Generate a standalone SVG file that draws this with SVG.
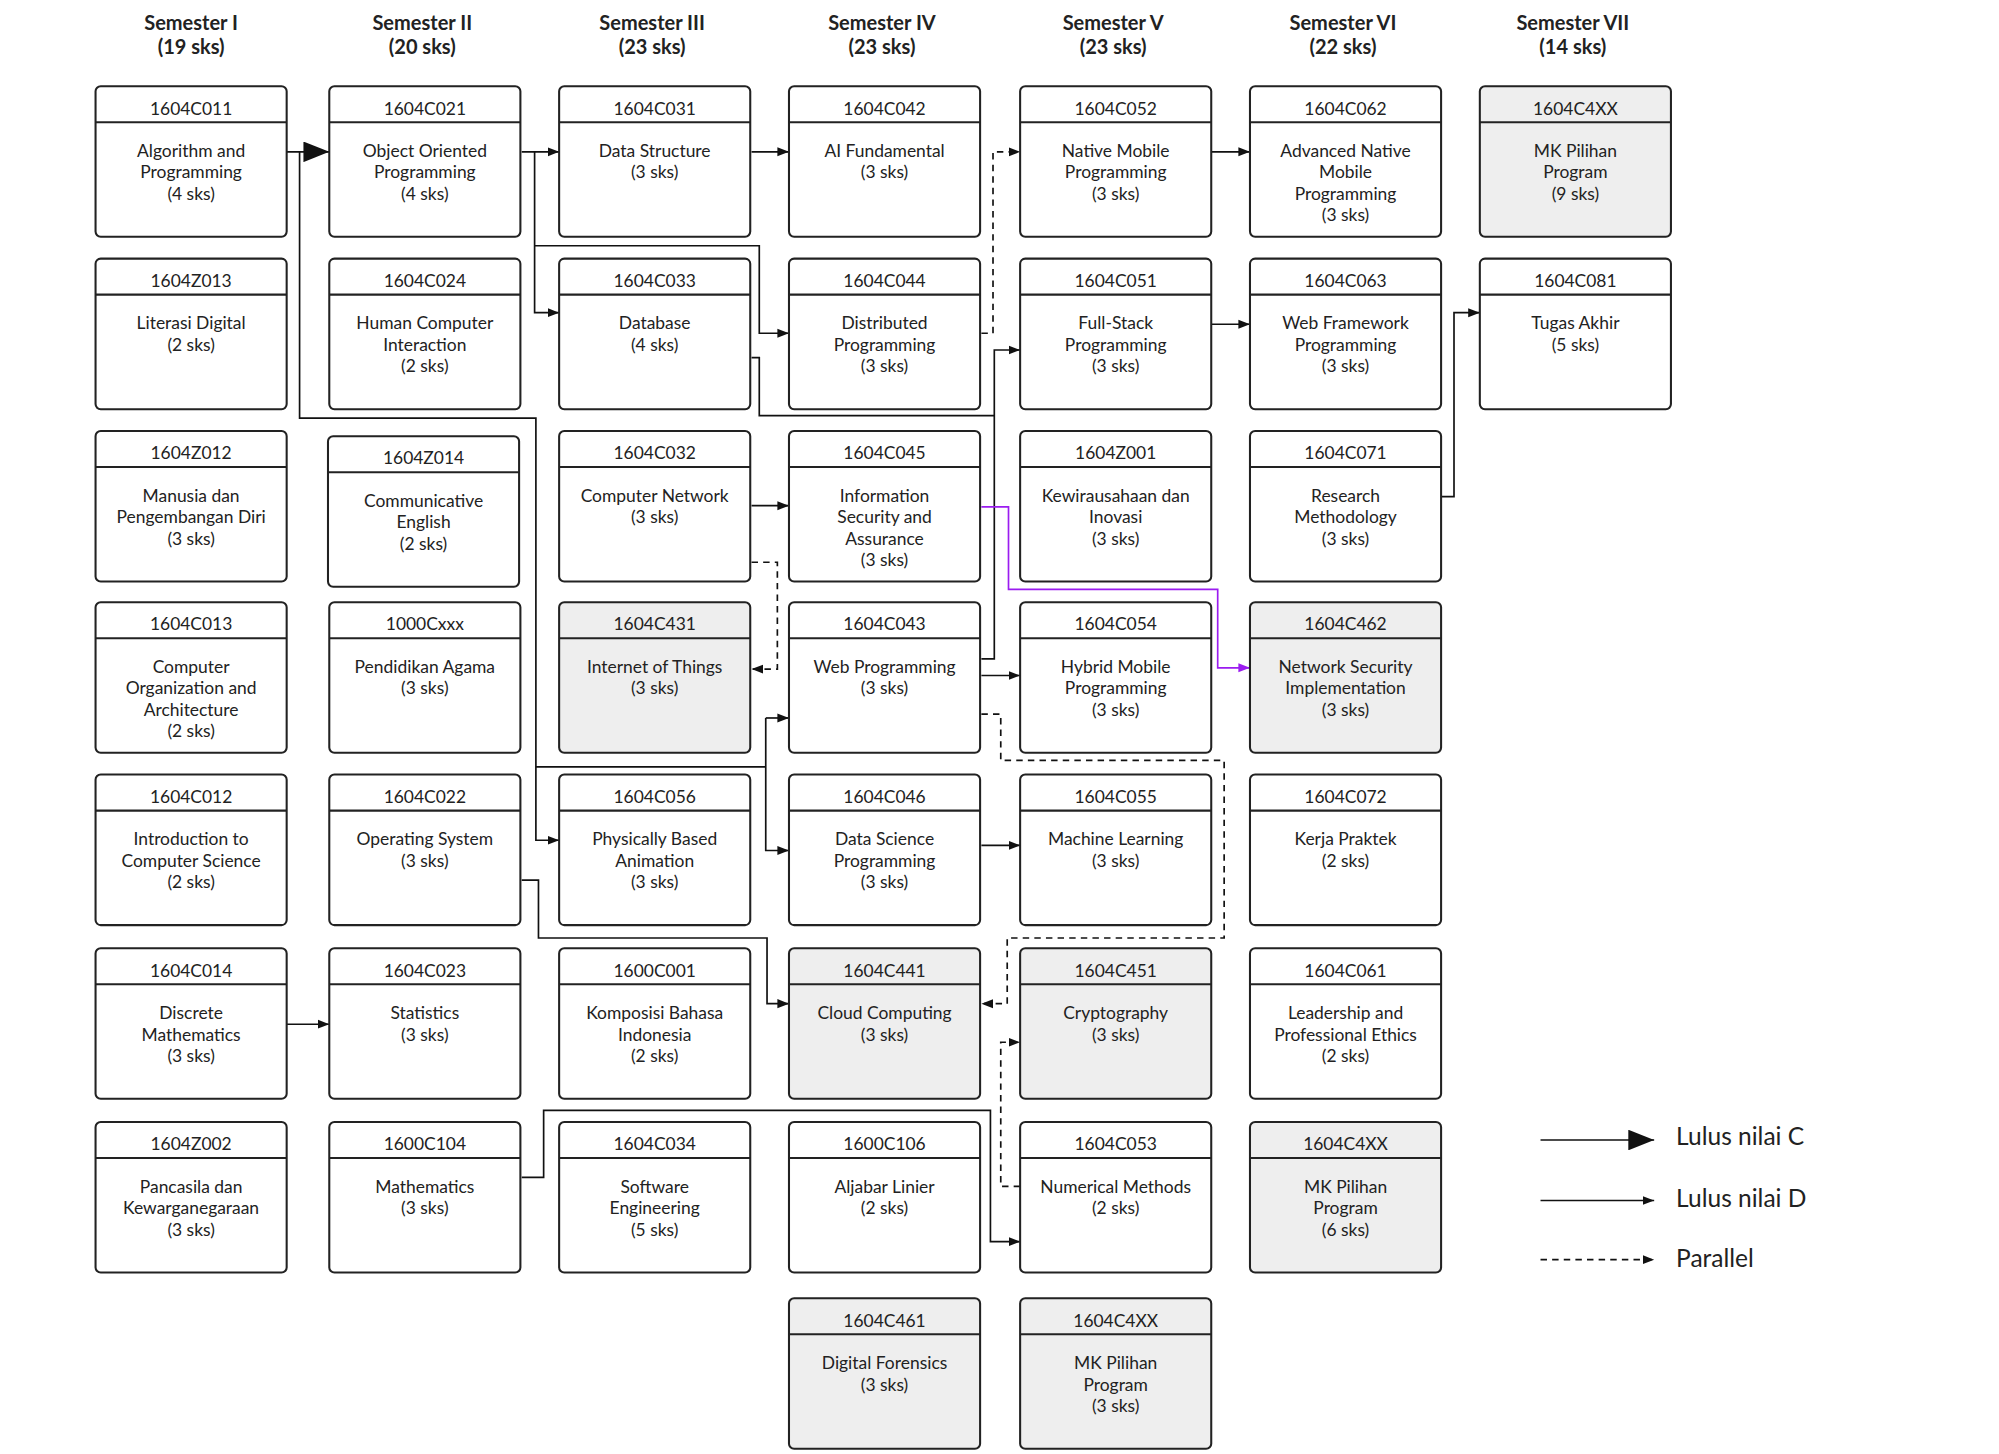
<svg xmlns="http://www.w3.org/2000/svg" width="1999" height="1454" viewBox="0 0 1999 1454">
<defs>
<style>
.box{fill:#fff;stroke:#222;stroke-width:1.6}
.sh{fill:#eeeeee}
.hd{stroke:#222;stroke-width:1.6}
text{font-family:Lato,"Noto Sans",sans-serif;fill:#222;text-anchor:middle}
.code{font-size:13.5px}
.body{font-size:13.5px}
.ttl{font-size:15.5px;font-weight:bold}
.c{fill:none;stroke:#111;stroke-width:1.3}
.d{stroke-dasharray:5,4}
.lg{font-size:19px;text-anchor:start}
</style>
<marker id="a" markerUnits="userSpaceOnUse" markerWidth="10" markerHeight="8" refX="9" refY="4" orient="auto"><path d="M0,0.5 L9,4 L0,7.5 z" fill="#111"/></marker>
<marker id="ap" markerUnits="userSpaceOnUse" markerWidth="10" markerHeight="8" refX="9" refY="4" orient="auto"><path d="M0,0.5 L9,4 L0,7.5 z" fill="#9b1cf0"/></marker>
<marker id="at" markerUnits="userSpaceOnUse" markerWidth="22" markerHeight="16" refX="20" refY="8" orient="auto"><path d="M0,0 L20,8 L0,16 z" fill="#111"/></marker>
</defs>
<rect width="1999" height="1454" fill="#fff"/>
<g transform="scale(1.2913,1.2867)">
<g id="titles">
<text class="ttl" x="148" y="23">Semester I</text><text class="ttl" x="148" y="42">(19 sks)</text>
<text class="ttl" x="327" y="23">Semester II</text><text class="ttl" x="327" y="42">(20 sks)</text>
<text class="ttl" x="505" y="23">Semester III</text><text class="ttl" x="505" y="42">(23 sks)</text>
<text class="ttl" x="683" y="23">Semester IV</text><text class="ttl" x="683" y="42">(23 sks)</text>
<text class="ttl" x="862" y="23">Semester V</text><text class="ttl" x="862" y="42">(23 sks)</text>
<text class="ttl" x="1040" y="23">Semester VI</text><text class="ttl" x="1040" y="42">(22 sks)</text>
<text class="ttl" x="1218" y="23">Semester VII</text><text class="ttl" x="1218" y="42">(14 sks)</text>
</g>
<g id="connectors">
<path class="c" d="M222,118 H255" stroke-width="3" marker-end="url(#at)"/>
<path class="c" d="M232,118 V325 H415 V653 H433" marker-end="url(#a)"/>
<path class="c" d="M404,118 H433" marker-end="url(#a)"/>
<path class="c" d="M414,118 V243 H433" marker-end="url(#a)"/>
<path class="c" d="M414,191 H588 V259 H611" marker-end="url(#a)"/>
<path class="c" d="M582,118 H611" marker-end="url(#a)"/>
<path class="c" d="M582,278 H588 V323 H770"/>
<path class="c" d="M760,512 H770 V272 H790" marker-end="url(#a)"/>
<path class="c d" d="M760,259 H769 V118 H790" marker-end="url(#a)"/>
<path class="c" d="M760,525 H790" marker-end="url(#a)"/>
<path class="c d" d="M760,555 H775 V591 H948 V729 H780 V780 H760" marker-end="url(#a)"/>
<path class="c" d="M582,393 H611" marker-end="url(#a)"/>
<path class="c d" d="M582,437 H602 V520 H582" marker-end="url(#a)"/>
<path d="M760,394 H781 V458 H943 V519 H968" fill="none" stroke="#9b1cf0" stroke-width="1.3" marker-end="url(#ap)"/>
<path class="c" d="M415,596 H593"/>
<path class="c" d="M593,558 V661 H611" marker-end="url(#a)"/>
<path class="c" d="M593,558 H611" marker-end="url(#a)"/>
<path class="c" d="M760,657 H790" marker-end="url(#a)"/>
<path class="c" d="M404,684 H417 V729 H594 V780 H611" marker-end="url(#a)"/>
<path class="c" d="M222,796 H255" marker-end="url(#a)"/>
<path class="c" d="M404,915 H421 V863 H767 V965 H790" marker-end="url(#a)"/>
<path class="c d" d="M790,922 H775 V810 H790" marker-end="url(#a)"/>
<path class="c" d="M938,118 H968" marker-end="url(#a)"/>
<path class="c" d="M938,252 H968" marker-end="url(#a)"/>
<path class="c" d="M1116,386 H1126 V243 H1146" marker-end="url(#a)"/>
</g>
<g id="n-C011" transform="translate(74,67)"><rect class="box" width="148" height="117" rx="4"/><line class="hd" x1="0" y1="28" x2="148" y2="28"/><text class="code" x="74" y="22">1604C011</text><text class="body" y="55"><tspan x="74">Algorithm and</tspan><tspan x="74" dy="16.7">Programming</tspan><tspan x="74" dy="16.7">(4 sks)</tspan></text></g>
<g id="n-Z013" transform="translate(74,201)"><rect class="box" width="148" height="117" rx="4"/><line class="hd" x1="0" y1="28" x2="148" y2="28"/><text class="code" x="74" y="22">1604Z013</text><text class="body" y="55"><tspan x="74">Literasi Digital</tspan><tspan x="74" dy="16.7">(2 sks)</tspan></text></g>
<g id="n-Z012" transform="translate(74,335)"><rect class="box" width="148" height="117" rx="4"/><line class="hd" x1="0" y1="28" x2="148" y2="28"/><text class="code" x="74" y="22">1604Z012</text><text class="body" y="55"><tspan x="74">Manusia dan</tspan><tspan x="74" dy="16.7">Pengembangan Diri</tspan><tspan x="74" dy="16.7">(3 sks)</tspan></text></g>
<g id="n-C013" transform="translate(74,468)"><rect class="box" width="148" height="117" rx="4"/><line class="hd" x1="0" y1="28" x2="148" y2="28"/><text class="code" x="74" y="22">1604C013</text><text class="body" y="55"><tspan x="74">Computer</tspan><tspan x="74" dy="16.7">Organization and</tspan><tspan x="74" dy="16.7">Architecture</tspan><tspan x="74" dy="16.7">(2 sks)</tspan></text></g>
<g id="n-C012" transform="translate(74,602)"><rect class="box" width="148" height="117" rx="4"/><line class="hd" x1="0" y1="28" x2="148" y2="28"/><text class="code" x="74" y="22">1604C012</text><text class="body" y="55"><tspan x="74">Introduction to</tspan><tspan x="74" dy="16.7">Computer Science</tspan><tspan x="74" dy="16.7">(2 sks)</tspan></text></g>
<g id="n-C014" transform="translate(74,737)"><rect class="box" width="148" height="117" rx="4"/><line class="hd" x1="0" y1="28" x2="148" y2="28"/><text class="code" x="74" y="22">1604C014</text><text class="body" y="55"><tspan x="74">Discrete</tspan><tspan x="74" dy="16.7">Mathematics</tspan><tspan x="74" dy="16.7">(3 sks)</tspan></text></g>
<g id="n-Z002" transform="translate(74,872)"><rect class="box" width="148" height="117" rx="4"/><line class="hd" x1="0" y1="28" x2="148" y2="28"/><text class="code" x="74" y="22">1604Z002</text><text class="body" y="55"><tspan x="74">Pancasila dan</tspan><tspan x="74" dy="16.7">Kewarganegaraan</tspan><tspan x="74" dy="16.7">(3 sks)</tspan></text></g>
<g id="n-C021" transform="translate(255,67)"><rect class="box" width="148" height="117" rx="4"/><line class="hd" x1="0" y1="28" x2="148" y2="28"/><text class="code" x="74" y="22">1604C021</text><text class="body" y="55"><tspan x="74">Object Oriented</tspan><tspan x="74" dy="16.7">Programming</tspan><tspan x="74" dy="16.7">(4 sks)</tspan></text></g>
<g id="n-C024" transform="translate(255,201)"><rect class="box" width="148" height="117" rx="4"/><line class="hd" x1="0" y1="28" x2="148" y2="28"/><text class="code" x="74" y="22">1604C024</text><text class="body" y="55"><tspan x="74">Human Computer</tspan><tspan x="74" dy="16.7">Interaction</tspan><tspan x="74" dy="16.7">(2 sks)</tspan></text></g>
<g id="n-Z014" transform="translate(254,339)"><rect class="box" width="148" height="117" rx="4"/><line class="hd" x1="0" y1="28" x2="148" y2="28"/><text class="code" x="74" y="22">1604Z014</text><text class="body" y="55"><tspan x="74">Communicative</tspan><tspan x="74" dy="16.7">English</tspan><tspan x="74" dy="16.7">(2 sks)</tspan></text></g>
<g id="n-1000Cxxx" transform="translate(255,468)"><rect class="box" width="148" height="117" rx="4"/><line class="hd" x1="0" y1="28" x2="148" y2="28"/><text class="code" x="74" y="22">1000Cxxx</text><text class="body" y="55"><tspan x="74">Pendidikan Agama</tspan><tspan x="74" dy="16.7">(3 sks)</tspan></text></g>
<g id="n-C022" transform="translate(255,602)"><rect class="box" width="148" height="117" rx="4"/><line class="hd" x1="0" y1="28" x2="148" y2="28"/><text class="code" x="74" y="22">1604C022</text><text class="body" y="55"><tspan x="74">Operating System</tspan><tspan x="74" dy="16.7">(3 sks)</tspan></text></g>
<g id="n-C023" transform="translate(255,737)"><rect class="box" width="148" height="117" rx="4"/><line class="hd" x1="0" y1="28" x2="148" y2="28"/><text class="code" x="74" y="22">1604C023</text><text class="body" y="55"><tspan x="74">Statistics</tspan><tspan x="74" dy="16.7">(3 sks)</tspan></text></g>
<g id="n-C104" transform="translate(255,872)"><rect class="box" width="148" height="117" rx="4"/><line class="hd" x1="0" y1="28" x2="148" y2="28"/><text class="code" x="74" y="22">1600C104</text><text class="body" y="55"><tspan x="74">Mathematics</tspan><tspan x="74" dy="16.7">(3 sks)</tspan></text></g>
<g id="n-C031" transform="translate(433,67)"><rect class="box" width="148" height="117" rx="4"/><line class="hd" x1="0" y1="28" x2="148" y2="28"/><text class="code" x="74" y="22">1604C031</text><text class="body" y="55"><tspan x="74">Data Structure</tspan><tspan x="74" dy="16.7">(3 sks)</tspan></text></g>
<g id="n-C033" transform="translate(433,201)"><rect class="box" width="148" height="117" rx="4"/><line class="hd" x1="0" y1="28" x2="148" y2="28"/><text class="code" x="74" y="22">1604C033</text><text class="body" y="55"><tspan x="74">Database</tspan><tspan x="74" dy="16.7">(4 sks)</tspan></text></g>
<g id="n-C032" transform="translate(433,335)"><rect class="box" width="148" height="117" rx="4"/><line class="hd" x1="0" y1="28" x2="148" y2="28"/><text class="code" x="74" y="22">1604C032</text><text class="body" y="55"><tspan x="74">Computer Network</tspan><tspan x="74" dy="16.7">(3 sks)</tspan></text></g>
<g id="n-C431" transform="translate(433,468)"><rect class="box sh" width="148" height="117" rx="4"/><line class="hd" x1="0" y1="28" x2="148" y2="28"/><text class="code" x="74" y="22">1604C431</text><text class="body" y="55"><tspan x="74">Internet of Things</tspan><tspan x="74" dy="16.7">(3 sks)</tspan></text></g>
<g id="n-C056" transform="translate(433,602)"><rect class="box" width="148" height="117" rx="4"/><line class="hd" x1="0" y1="28" x2="148" y2="28"/><text class="code" x="74" y="22">1604C056</text><text class="body" y="55"><tspan x="74">Physically Based</tspan><tspan x="74" dy="16.7">Animation</tspan><tspan x="74" dy="16.7">(3 sks)</tspan></text></g>
<g id="n-C001" transform="translate(433,737)"><rect class="box" width="148" height="117" rx="4"/><line class="hd" x1="0" y1="28" x2="148" y2="28"/><text class="code" x="74" y="22">1600C001</text><text class="body" y="55"><tspan x="74">Komposisi Bahasa</tspan><tspan x="74" dy="16.7">Indonesia</tspan><tspan x="74" dy="16.7">(2 sks)</tspan></text></g>
<g id="n-C034" transform="translate(433,872)"><rect class="box" width="148" height="117" rx="4"/><line class="hd" x1="0" y1="28" x2="148" y2="28"/><text class="code" x="74" y="22">1604C034</text><text class="body" y="55"><tspan x="74">Software</tspan><tspan x="74" dy="16.7">Engineering</tspan><tspan x="74" dy="16.7">(5 sks)</tspan></text></g>
<g id="n-C042" transform="translate(611,67)"><rect class="box" width="148" height="117" rx="4"/><line class="hd" x1="0" y1="28" x2="148" y2="28"/><text class="code" x="74" y="22">1604C042</text><text class="body" y="55"><tspan x="74">AI Fundamental</tspan><tspan x="74" dy="16.7">(3 sks)</tspan></text></g>
<g id="n-C044" transform="translate(611,201)"><rect class="box" width="148" height="117" rx="4"/><line class="hd" x1="0" y1="28" x2="148" y2="28"/><text class="code" x="74" y="22">1604C044</text><text class="body" y="55"><tspan x="74">Distributed</tspan><tspan x="74" dy="16.7">Programming</tspan><tspan x="74" dy="16.7">(3 sks)</tspan></text></g>
<g id="n-C045" transform="translate(611,335)"><rect class="box" width="148" height="117" rx="4"/><line class="hd" x1="0" y1="28" x2="148" y2="28"/><text class="code" x="74" y="22">1604C045</text><text class="body" y="55"><tspan x="74">Information</tspan><tspan x="74" dy="16.7">Security and</tspan><tspan x="74" dy="16.7">Assurance</tspan><tspan x="74" dy="16.7">(3 sks)</tspan></text></g>
<g id="n-C043" transform="translate(611,468)"><rect class="box" width="148" height="117" rx="4"/><line class="hd" x1="0" y1="28" x2="148" y2="28"/><text class="code" x="74" y="22">1604C043</text><text class="body" y="55"><tspan x="74">Web Programming</tspan><tspan x="74" dy="16.7">(3 sks)</tspan></text></g>
<g id="n-C046" transform="translate(611,602)"><rect class="box" width="148" height="117" rx="4"/><line class="hd" x1="0" y1="28" x2="148" y2="28"/><text class="code" x="74" y="22">1604C046</text><text class="body" y="55"><tspan x="74">Data Science</tspan><tspan x="74" dy="16.7">Programming</tspan><tspan x="74" dy="16.7">(3 sks)</tspan></text></g>
<g id="n-C441" transform="translate(611,737)"><rect class="box sh" width="148" height="117" rx="4"/><line class="hd" x1="0" y1="28" x2="148" y2="28"/><text class="code" x="74" y="22">1604C441</text><text class="body" y="55"><tspan x="74">Cloud Computing</tspan><tspan x="74" dy="16.7">(3 sks)</tspan></text></g>
<g id="n-C106" transform="translate(611,872)"><rect class="box" width="148" height="117" rx="4"/><line class="hd" x1="0" y1="28" x2="148" y2="28"/><text class="code" x="74" y="22">1600C106</text><text class="body" y="55"><tspan x="74">Aljabar Linier</tspan><tspan x="74" dy="16.7">(2 sks)</tspan></text></g>
<g id="n-C461" transform="translate(611,1009)"><rect class="box sh" width="148" height="117" rx="4"/><line class="hd" x1="0" y1="28" x2="148" y2="28"/><text class="code" x="74" y="22">1604C461</text><text class="body" y="55"><tspan x="74">Digital Forensics</tspan><tspan x="74" dy="16.7">(3 sks)</tspan></text></g>
<g id="n-C052" transform="translate(790,67)"><rect class="box" width="148" height="117" rx="4"/><line class="hd" x1="0" y1="28" x2="148" y2="28"/><text class="code" x="74" y="22">1604C052</text><text class="body" y="55"><tspan x="74">Native Mobile</tspan><tspan x="74" dy="16.7">Programming</tspan><tspan x="74" dy="16.7">(3 sks)</tspan></text></g>
<g id="n-C051" transform="translate(790,201)"><rect class="box" width="148" height="117" rx="4"/><line class="hd" x1="0" y1="28" x2="148" y2="28"/><text class="code" x="74" y="22">1604C051</text><text class="body" y="55"><tspan x="74">Full-Stack</tspan><tspan x="74" dy="16.7">Programming</tspan><tspan x="74" dy="16.7">(3 sks)</tspan></text></g>
<g id="n-Z001" transform="translate(790,335)"><rect class="box" width="148" height="117" rx="4"/><line class="hd" x1="0" y1="28" x2="148" y2="28"/><text class="code" x="74" y="22">1604Z001</text><text class="body" y="55"><tspan x="74">Kewirausahaan dan</tspan><tspan x="74" dy="16.7">Inovasi</tspan><tspan x="74" dy="16.7">(3 sks)</tspan></text></g>
<g id="n-C054" transform="translate(790,468)"><rect class="box" width="148" height="117" rx="4"/><line class="hd" x1="0" y1="28" x2="148" y2="28"/><text class="code" x="74" y="22">1604C054</text><text class="body" y="55"><tspan x="74">Hybrid Mobile</tspan><tspan x="74" dy="16.7">Programming</tspan><tspan x="74" dy="16.7">(3 sks)</tspan></text></g>
<g id="n-C055" transform="translate(790,602)"><rect class="box" width="148" height="117" rx="4"/><line class="hd" x1="0" y1="28" x2="148" y2="28"/><text class="code" x="74" y="22">1604C055</text><text class="body" y="55"><tspan x="74">Machine Learning</tspan><tspan x="74" dy="16.7">(3 sks)</tspan></text></g>
<g id="n-C451" transform="translate(790,737)"><rect class="box sh" width="148" height="117" rx="4"/><line class="hd" x1="0" y1="28" x2="148" y2="28"/><text class="code" x="74" y="22">1604C451</text><text class="body" y="55"><tspan x="74">Cryptography</tspan><tspan x="74" dy="16.7">(3 sks)</tspan></text></g>
<g id="n-C053" transform="translate(790,872)"><rect class="box" width="148" height="117" rx="4"/><line class="hd" x1="0" y1="28" x2="148" y2="28"/><text class="code" x="74" y="22">1604C053</text><text class="body" y="55"><tspan x="74">Numerical Methods</tspan><tspan x="74" dy="16.7">(2 sks)</tspan></text></g>
<g id="n-C4XX-3" transform="translate(790,1009)"><rect class="box sh" width="148" height="117" rx="4"/><line class="hd" x1="0" y1="28" x2="148" y2="28"/><text class="code" x="74" y="22">1604C4XX</text><text class="body" y="55"><tspan x="74">MK Pilihan</tspan><tspan x="74" dy="16.7">Program</tspan><tspan x="74" dy="16.7">(3 sks)</tspan></text></g>
<g id="n-C062" transform="translate(968,67)"><rect class="box" width="148" height="117" rx="4"/><line class="hd" x1="0" y1="28" x2="148" y2="28"/><text class="code" x="74" y="22">1604C062</text><text class="body" y="55"><tspan x="74">Advanced Native</tspan><tspan x="74" dy="16.7">Mobile</tspan><tspan x="74" dy="16.7">Programming</tspan><tspan x="74" dy="16.7">(3 sks)</tspan></text></g>
<g id="n-C063" transform="translate(968,201)"><rect class="box" width="148" height="117" rx="4"/><line class="hd" x1="0" y1="28" x2="148" y2="28"/><text class="code" x="74" y="22">1604C063</text><text class="body" y="55"><tspan x="74">Web Framework</tspan><tspan x="74" dy="16.7">Programming</tspan><tspan x="74" dy="16.7">(3 sks)</tspan></text></g>
<g id="n-C071" transform="translate(968,335)"><rect class="box" width="148" height="117" rx="4"/><line class="hd" x1="0" y1="28" x2="148" y2="28"/><text class="code" x="74" y="22">1604C071</text><text class="body" y="55"><tspan x="74">Research</tspan><tspan x="74" dy="16.7">Methodology</tspan><tspan x="74" dy="16.7">(3 sks)</tspan></text></g>
<g id="n-C462" transform="translate(968,468)"><rect class="box sh" width="148" height="117" rx="4"/><line class="hd" x1="0" y1="28" x2="148" y2="28"/><text class="code" x="74" y="22">1604C462</text><text class="body" y="55"><tspan x="74">Network Security</tspan><tspan x="74" dy="16.7">Implementation</tspan><tspan x="74" dy="16.7">(3 sks)</tspan></text></g>
<g id="n-C072" transform="translate(968,602)"><rect class="box" width="148" height="117" rx="4"/><line class="hd" x1="0" y1="28" x2="148" y2="28"/><text class="code" x="74" y="22">1604C072</text><text class="body" y="55"><tspan x="74">Kerja Praktek</tspan><tspan x="74" dy="16.7">(2 sks)</tspan></text></g>
<g id="n-C061" transform="translate(968,737)"><rect class="box" width="148" height="117" rx="4"/><line class="hd" x1="0" y1="28" x2="148" y2="28"/><text class="code" x="74" y="22">1604C061</text><text class="body" y="55"><tspan x="74">Leadership and</tspan><tspan x="74" dy="16.7">Professional Ethics</tspan><tspan x="74" dy="16.7">(2 sks)</tspan></text></g>
<g id="n-C4XX-6" transform="translate(968,872)"><rect class="box sh" width="148" height="117" rx="4"/><line class="hd" x1="0" y1="28" x2="148" y2="28"/><text class="code" x="74" y="22">1604C4XX</text><text class="body" y="55"><tspan x="74">MK Pilihan</tspan><tspan x="74" dy="16.7">Program</tspan><tspan x="74" dy="16.7">(6 sks)</tspan></text></g>
<g id="n-C4XX-9" transform="translate(1146,67)"><rect class="box sh" width="148" height="117" rx="4"/><line class="hd" x1="0" y1="28" x2="148" y2="28"/><text class="code" x="74" y="22">1604C4XX</text><text class="body" y="55"><tspan x="74">MK Pilihan</tspan><tspan x="74" dy="16.7">Program</tspan><tspan x="74" dy="16.7">(9 sks)</tspan></text></g>
<g id="n-C081" transform="translate(1146,201)"><rect class="box" width="148" height="117" rx="4"/><line class="hd" x1="0" y1="28" x2="148" y2="28"/><text class="code" x="74" y="22">1604C081</text><text class="body" y="55"><tspan x="74">Tugas Akhir</tspan><tspan x="74" dy="16.7">(5 sks)</tspan></text></g>
<g id="legend">
<path class="c" d="M1193,886 H1281" stroke-width="3" marker-end="url(#at)"/>
<text class="lg" x="1298" y="890">Lulus nilai C</text>
<path class="c" d="M1193,933 H1281" marker-end="url(#a)"/>
<text class="lg" x="1298" y="938">Lulus nilai D</text>
<path class="c d" d="M1193,979 H1281" marker-end="url(#a)"/>
<text class="lg" x="1298" y="985">Parallel</text>
</g>
</g>
</svg>
